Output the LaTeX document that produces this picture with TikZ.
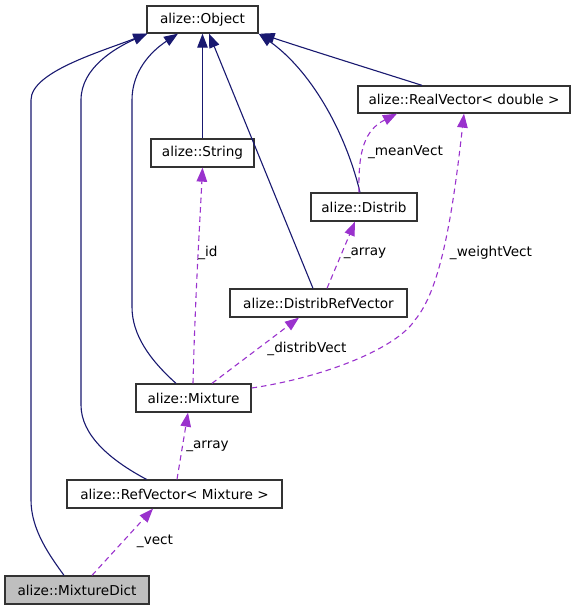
\documentclass[tikz,border=0pt]{standalone}
\usepackage{fontspec}
\setmainfont{DejaVu Sans}
\usetikzlibrary{arrows.meta}
\newcommand\diagfont{\fontsize{13.6pt}{16pt}\selectfont}
\definecolor{inhcol}{HTML}{191970}
\definecolor{usecol}{HTML}{9A32CD}
\begin{document}
\begin{tikzpicture}[x=1pt,y=-1pt,
  cls/.style={draw=black!80,line width=1.3pt,inner sep=0pt,font=\diagfont,fill=white},
  inh/.style={draw=inhcol,line width=1.1pt,-{Triangle[length=14pt,width=10.5pt]},inhcol},
  use/.style={draw=usecol,line width=1.1pt,dash pattern=on 5.5pt off 4pt,-{Triangle[length=14pt,width=10.5pt]},usecol},
  lbl/.style={font=\diagfont,inner sep=0pt,text=black}]
\useasboundingbox (0,0) rectangle (575,611);
% nodes
\node[cls,minimum width=111pt,minimum height=27pt] (obj) at (202.5,19.5) {alize::Object};
\node[cls,minimum width=103pt,minimum height=28pt] (str) at (202.5,153) {alize::String};
\node[cls,minimum width=212pt,minimum height=27pt] (realv) at (464,99.5) {alize::RealVector< double >};
\node[cls,minimum width=106pt,minimum height=28pt] (dist) at (364,207) {alize::Distrib};
\node[cls,minimum width=177pt,minimum height=28pt] (drv) at (318.5,303) {alize::DistribRefVector};
\node[cls,minimum width=115pt,minimum height=28pt] (mix) at (193.5,398) {alize::Mixture};
\node[cls,minimum width=215pt,minimum height=28pt] (rv) at (174.5,494) {alize::RefVector< Mixture >};
\node[cls,minimum width=144pt,minimum height=28pt,fill=black!25] (md) at (77,590) {alize::MixtureDict};
% inheritance
\draw[inh] ([xshift=-13pt]md.north) .. controls (50,556) and (31,530) .. (31,500) -- (31,100)
   .. controls (31,72) and (100,52) .. ([xshift=1pt]obj.south west);
\draw[inh] ([xshift=-28pt]rv.north) .. controls (110,460) and (81,435) .. (81,405) -- (81,100)
   .. controls (81,68) and (115,48) .. ([xshift=1pt]obj.south west);
\draw[inh] ([xshift=-17.5pt]mix.north) .. controls (150,360) and (132,335) .. (132,307) -- (132,100)
   .. controls (132,72) and (150,52) .. ([xshift=-24.5pt]obj.south);
\draw[inh] (str.north) -- (obj.south);
\draw[inh] ([xshift=-5.5pt]drv.north) -- ([xshift=6.5pt]obj.south);
\draw[inh] ([xshift=-4pt]dist.north) .. controls (345,130) and (310,70) .. (obj.south east);
\draw[inh] ([xshift=-42pt]realv.north) .. controls (380,72) and (300,47) .. ([xshift=2pt]obj.south east);
% usage
\draw[use] ([xshift=-0.5pt]mix.north) .. controls (195,300) and (200,220) .. (str.south);
\draw[use] ([xshift=-5pt]dist.north) .. controls (358,150) and (365,130) .. ([xshift=-67pt]realv.south);
\draw[use] ([xshift=8.5pt]drv.north) -- ([xshift=-9pt]dist.south);
\draw[use] ([xshift=18.5pt]mix.north) -- ([xshift=-19.5pt]drv.south);
\draw[use] ([yshift=10pt]mix.east) .. controls (320,378) and (395,350) .. (415,320)
   .. controls (440,290) and (452,220) .. (realv.south);
\draw[use] ([xshift=2.5pt]rv.north) -- ([xshift=-5.5pt]mix.south);
\draw[use] ([xshift=15pt]md.north) -- ([xshift=-21.5pt]rv.south);
% labels
\node[lbl] (lid) at (208,253) {\_id};
\node[lbl] (lmean) at (405.5,152) {\_meanVect};
\node[lbl] (larr1) at (365,253) {\_array};
\node[lbl] (lweight) at (491,253) {\_weightVect};
\node[lbl] (ldv) at (307,349) {\_distribVect};
\node[lbl] (larr2) at (207.5,446) {\_array};
\node[lbl] (lvect) at (155,541) {\_vect};
\end{tikzpicture}
\end{document}
